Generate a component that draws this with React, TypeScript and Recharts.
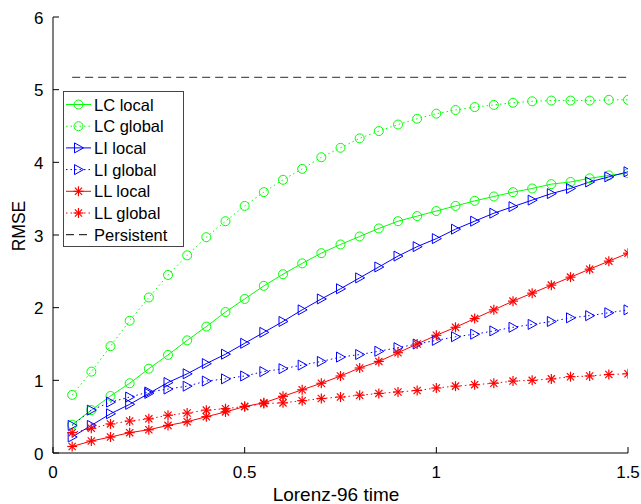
import React from 'react';
import { LineChart, Line, XAxis, YAxis } from 'recharts';

const TIMES = [0.05, 0.1, 0.15, 0.2, 0.25, 0.3, 0.35, 0.4, 0.45, 0.5, 0.55, 0.6, 0.65, 0.7, 0.75, 0.8, 0.85, 0.9, 0.95, 1.0, 1.05, 1.1, 1.15, 1.2, 1.25, 1.3, 1.35, 1.4, 1.45, 1.5];

const LC_LOCAL = [0.39, 0.59, 0.785, 0.96, 1.16, 1.35, 1.55, 1.74, 1.94, 2.12, 2.30, 2.46, 2.61, 2.75, 2.87, 2.98, 3.09, 3.19, 3.26, 3.33, 3.40, 3.47, 3.53, 3.59, 3.64, 3.70, 3.73, 3.78, 3.82, 3.85];
const LC_GLOBAL = [0.80, 1.12, 1.47, 1.82, 2.14, 2.45, 2.72, 2.97, 3.19, 3.40, 3.59, 3.76, 3.91, 4.07, 4.20, 4.33, 4.43, 4.52, 4.60, 4.67, 4.72, 4.76, 4.79, 4.82, 4.84, 4.85, 4.85, 4.85, 4.86, 4.86];
const LI_LOCAL = [0.22, 0.38, 0.54, 0.67, 0.82, 0.97, 1.09, 1.23, 1.36, 1.51, 1.66, 1.81, 1.97, 2.12, 2.26, 2.41, 2.56, 2.71, 2.84, 2.95, 3.08, 3.19, 3.30, 3.39, 3.48, 3.57, 3.64, 3.73, 3.80, 3.87];
const LI_GLOBAL = [0.38, 0.59, 0.70, 0.77, 0.84, 0.88, 0.92, 0.99, 1.02, 1.06, 1.12, 1.16, 1.21, 1.26, 1.32, 1.355, 1.40, 1.45, 1.50, 1.55, 1.60, 1.635, 1.68, 1.73, 1.77, 1.81, 1.86, 1.89, 1.93, 1.97];
const LL_LOCAL = [0.09, 0.165, 0.22, 0.28, 0.32, 0.38, 0.43, 0.50, 0.565, 0.64, 0.69, 0.78, 0.87, 0.96, 1.06, 1.17, 1.26, 1.38, 1.50, 1.62, 1.73, 1.85, 1.97, 2.09, 2.20, 2.31, 2.42, 2.53, 2.64, 2.75];
const LL_GLOBAL = [0.28, 0.34, 0.40, 0.44, 0.47, 0.52, 0.55, 0.59, 0.61, 0.64, 0.68, 0.69, 0.72, 0.75, 0.77, 0.795, 0.82, 0.84, 0.86, 0.895, 0.92, 0.94, 0.96, 0.99, 1.00, 1.02, 1.05, 1.06, 1.08, 1.09];
const PERSISTENT = [5.17, 5.17, 5.17, 5.17, 5.17, 5.17, 5.17, 5.17, 5.17, 5.17, 5.17, 5.17, 5.17, 5.17, 5.17, 5.17, 5.17, 5.17, 5.17, 5.17, 5.17, 5.17, 5.17, 5.17, 5.17, 5.17, 5.17, 5.17, 5.17, 5.17];

const X_TICKS = [0, 0.5, 1, 1.5];
const Y_TICKS = [0, 1, 2, 3, 4, 5, 6];

const X_LABEL = 'Lorenz-96 time';
const Y_LABEL = 'RMSE';

const GREEN = '#00ff00';
const BLUE = '#0000ff';
const RED = '#ff0000';
const FONT = '"Liberation Sans", Arial, Helvetica, sans-serif';
const DOTTED = '1.5 3';

type Marker = 'circle' | 'triangle' | 'star' | 'none';

const SERIES: { key: string; name: string; color: string; dash?: string; marker: Marker }[] = [
  { key: 'lcLocal', name: 'LC local', color: GREEN, marker: 'circle' },
  { key: 'lcGlobal', name: 'LC global', color: GREEN, dash: DOTTED, marker: 'circle' },
  { key: 'liLocal', name: 'LI local', color: BLUE, marker: 'triangle' },
  { key: 'liGlobal', name: 'LI global', color: BLUE, dash: DOTTED, marker: 'triangle' },
  { key: 'llLocal', name: 'LL local', color: RED, marker: 'star' },
  { key: 'llGlobal', name: 'LL global', color: RED, dash: DOTTED, marker: 'star' },
  { key: 'persistent', name: 'Persistent', color: '#000000', dash: '8 5', marker: 'none' },
];

const data = TIMES.map((t, i) => ({
  t,
  lcLocal: LC_LOCAL[i],
  lcGlobal: LC_GLOBAL[i],
  liLocal: LI_LOCAL[i],
  liGlobal: LI_GLOBAL[i],
  llLocal: LL_LOCAL[i],
  llGlobal: LL_GLOBAL[i],
  persistent: PERSISTENT[i],
}));

function MarkerShape({ type, cx, cy, color }: { type: Marker; cx: number; cy: number; color: string }) {
  if (type === 'circle') {
    return <circle cx={cx} cy={cy} r={4.5} fill="none" stroke={color} strokeWidth={1} />;
  }
  if (type === 'triangle') {
    const p = `${cx - 4},${cy - 5} ${cx + 5},${cy} ${cx - 4},${cy + 5}`;
    return <polygon points={p} fill="none" stroke={color} strokeWidth={1} />;
  }
  if (type === 'star') {
    const d = 3.6;
    return (
      <g stroke={color} strokeWidth={1.2}>
        <line x1={cx - 5} y1={cy} x2={cx + 5} y2={cy} />
        <line x1={cx} y1={cy - 5} x2={cx} y2={cy + 5} />
        <line x1={cx - d} y1={cy - d} x2={cx + d} y2={cy + d} />
        <line x1={cx - d} y1={cy + d} x2={cx + d} y2={cy - d} />
      </g>
    );
  }
  return null;
}

const XTick = (props: any) => {
  const { x, y, payload } = props;
  return (
    <g>
      <line x1={x} y1={y} x2={x} y2={y - 6} stroke="#000" strokeWidth={1} />
      <text x={x} y={y + 25} textAnchor="middle" fontSize={17} fontFamily={FONT} fill="#000">
        {String(payload.value)}
      </text>
    </g>
  );
};

const YTick = (props: any) => {
  const { x, y, payload } = props;
  return (
    <g>
      <line x1={x} y1={y} x2={x + 6} y2={y} stroke="#000" strokeWidth={1} />
      <text x={x - 9.5} y={y + 6.5} textAnchor="end" fontSize={17} fontFamily={FONT} fill="#000">
        {String(payload.value)}
      </text>
    </g>
  );
};

function LegendBox() {
  const left = 63.5;
  const top = 91.5;
  const rowH = 21.7;
  return (
    <g>
      <rect x={left} y={top} width={120} height={155} fill="#fff" stroke="#444" strokeWidth={1} />
      {SERIES.map((s, i) => {
        const cy = top + 13 + i * rowH;
        return (
          <g key={s.key}>
            <line x1={66} y1={cy} x2={91} y2={cy} stroke={s.color} strokeWidth={1} strokeDasharray={s.dash} />
            <MarkerShape type={s.marker} cx={78.5} cy={cy} color={s.color} />
            <text x={94} y={cy + 6} fontSize={16.5} fontFamily={FONT} fill="#000">
              {s.name}
            </text>
          </g>
        );
      })}
    </g>
  );
}

export default function App() {
  return (
    <div style={{ position: 'absolute', left: 0, top: 0, width: 641, height: 504, background: '#fff' }}>
      <LineChart width={641} height={504} data={data} margin={{ top: 17, right: 13, bottom: 0, left: 0 }}>
        <XAxis
          dataKey="t"
          type="number"
          domain={[0, 1.5]}
          ticks={X_TICKS}
          height={51}
          tickSize={0}
          tickMargin={0}
          tick={<XTick />}
          axisLine={{ stroke: '#000', strokeWidth: 1 }}
          tickLine={false}
          allowDataOverflow
        />
        <YAxis
          type="number"
          domain={[0, 6]}
          ticks={Y_TICKS}
          width={53}
          tickSize={0}
          tickMargin={0}
          tick={<YTick />}
          axisLine={{ stroke: '#000', strokeWidth: 1 }}
          tickLine={false}
          allowDataOverflow
        />
        {SERIES.map((s) => (
          <Line
            key={s.key}
            type="linear"
            dataKey={s.key}
            name={s.name}
            stroke={s.key === 'persistent' ? '#555' : s.color}
            strokeWidth={s.key === 'persistent' ? 1.3 : 1}
            strokeDasharray={s.dash}
            isAnimationActive={false}
            activeDot={false}
            dot={
              s.marker === 'none'
                ? false
                : (p: any) => (
                    <MarkerShape key={`${s.key}-${p.index}`} type={s.marker} cx={p.cx} cy={p.cy} color={s.color} />
                  )
            }
          />
        ))}
      </LineChart>
      <svg width={641} height={504} style={{ position: 'absolute', left: 0, top: 0, pointerEvents: 'none' }}>
        <LegendBox />
        <text x={336} y={501} textAnchor="middle" fontSize={19} fontFamily={FONT} fill="#000">
          {X_LABEL}
        </text>
        <text
          x={0}
          y={0}
          transform="translate(25,226) rotate(-90)"
          textAnchor="middle"
          fontSize={17.5}
          fontFamily={FONT}
          fill="#000"
        >
          {Y_LABEL}
        </text>
      </svg>
    </div>
  );
}
